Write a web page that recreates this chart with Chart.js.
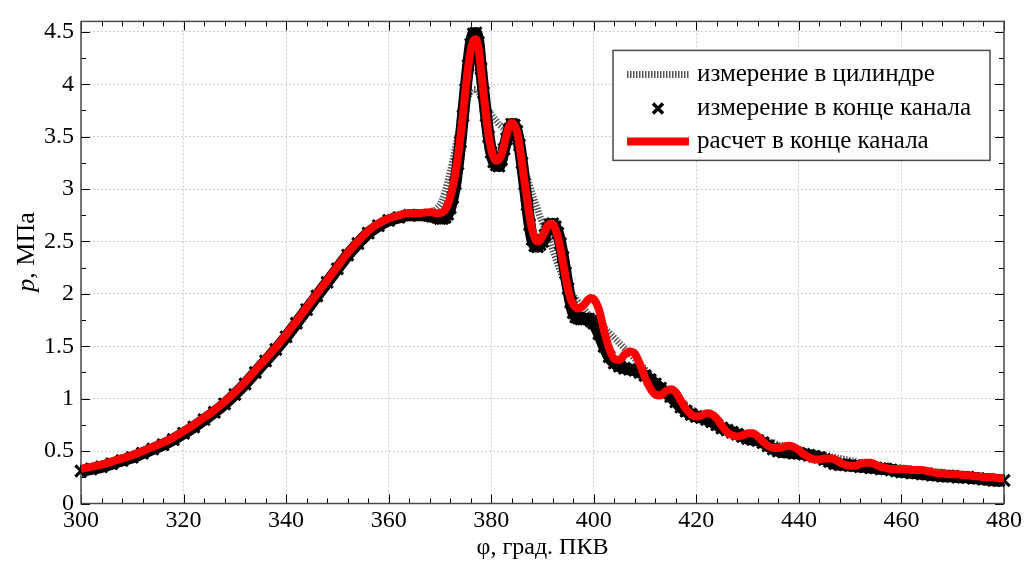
<!DOCTYPE html>
<html>
<head>
<meta charset="utf-8">
<title>Давление в цилиндре и в конце канала</title>
<script src="https://cdn.jsdelivr.net/npm/chart.js@4/dist/chart.umd.min.js"></script>
<style>
  html, body { margin: 0; padding: 0; background: #fff; }
  #wrap { width: 1026px; height: 561px; }
</style>
</head>
<body>
<div id="wrap"><canvas id="pressure" width="1026" height="561"></canvas></div>
<script>
// crank angle, deg (coarse on the compression stroke, fine around the peak)
const phi = [
  300, 302, 304, 306, 308, 310, 312, 314, 316, 318,
  320, 322, 324, 326, 328, 330, 332, 334, 336, 338,
  340, 342, 344, 346, 348, 350, 352, 354, 356, 358,
  360, 362, 364, 366, 368,
  368.5, 369, 369.5, 370, 370.5, 371, 371.5, 372,
  372.5, 373, 373.5, 374, 374.5, 375, 375.5, 376,
  376.5, 377, 377.5, 378, 378.5, 379, 379.5, 380,
  380.5, 381, 381.5, 382, 382.5, 383, 383.5, 384,
  384.5, 385, 385.5, 386, 386.5, 387, 387.5, 388,
  388.5, 389, 389.5, 390, 390.5, 391, 391.5, 392,
  392.5, 393, 393.5, 394, 394.5, 395, 395.5, 396,
  396.5, 397, 397.5, 398, 398.5, 399, 399.5, 400,
  401, 402, 403, 404, 405, 406, 407, 408, 409, 410,
  411, 412, 413, 414, 415, 416, 417, 418, 419, 420,
  421, 422, 423, 424, 425, 426, 427, 428, 429, 430,
  431, 432, 433, 434, 435, 436, 437, 438, 439, 440,
  441, 442, 443, 444, 445, 446, 447, 448, 449, 450,
  451, 452, 453, 454, 455, 456, 457, 458, 459, 460,
  461, 462, 463, 464, 465, 466, 467, 468, 469, 470,
  471, 472, 473, 474, 475, 476, 477, 478, 479, 480
];

// pressure measured in the cylinder, MPa
const pCylinder = [
  0.31, 0.33, 0.35, 0.37, 0.40, 0.44, 0.47, 0.51, 0.55, 0.60,
  0.66, 0.72, 0.79, 0.86, 0.93, 1.02, 1.12, 1.22, 1.33, 1.44,
  1.55, 1.68, 1.81, 1.94, 2.07, 2.20, 2.33, 2.45, 2.56, 2.64,
  2.70, 2.73, 2.75, 2.76, 2.78,
  2.79, 2.80, 2.82, 2.85, 2.90, 2.97, 3.06, 3.16,
  3.27, 3.39, 3.51, 3.62, 3.72, 3.81, 3.88, 3.93,
  3.95, 3.95, 3.93, 3.89, 3.84, 3.79, 3.75, 3.71,
  3.68, 3.65, 3.62, 3.60, 3.58, 3.56, 3.54, 3.51,
  3.47, 3.41, 3.34, 3.27, 3.19, 3.11, 3.03, 2.95,
  2.88, 2.81, 2.74, 2.68, 2.62, 2.56, 2.49, 2.42,
  2.35, 2.28, 2.22, 2.16, 2.11, 2.06, 2.02, 1.98,
  1.95, 1.92, 1.89, 1.86, 1.83, 1.80, 1.78, 1.76,
  1.73, 1.68, 1.63, 1.58, 1.53, 1.48, 1.43, 1.38, 1.33, 1.28,
  1.23, 1.18, 1.13, 1.09, 1.05, 1.01, 0.97, 0.93, 0.90, 0.87,
  0.84, 0.82, 0.80, 0.77, 0.75, 0.73, 0.71, 0.69, 0.67, 0.66,
  0.64, 0.62, 0.61, 0.59, 0.58, 0.56, 0.55, 0.54, 0.53, 0.52,
  0.50, 0.49, 0.48, 0.47, 0.46, 0.45, 0.44, 0.43, 0.42, 0.41,
  0.40, 0.39, 0.39, 0.38, 0.37, 0.36, 0.36, 0.35, 0.34, 0.34,
  0.33, 0.33, 0.32, 0.32, 0.31, 0.31, 0.30, 0.30, 0.29, 0.29,
  0.28, 0.28, 0.27, 0.27, 0.26, 0.26, 0.25, 0.25, 0.24, 0.24
];

// pressure measured at the channel end, MPa
const pChannelEnd = [
  0.31, 0.33, 0.35, 0.38, 0.41, 0.44, 0.48, 0.52, 0.56, 0.61,
  0.67, 0.73, 0.80, 0.87, 0.95, 1.04, 1.14, 1.25, 1.36, 1.47,
  1.59, 1.72, 1.85, 1.98, 2.11, 2.24, 2.37, 2.48, 2.58, 2.65,
  2.70, 2.73, 2.75, 2.75, 2.75,
  2.74, 2.74, 2.73, 2.72, 2.72, 2.73, 2.76, 2.82,
  2.92, 3.05, 3.24, 3.45, 3.70, 3.95, 4.18, 4.38,
  4.48, 4.49, 4.40, 4.15, 3.92, 3.70, 3.50, 3.35,
  3.26, 3.23, 3.22, 3.28, 3.38, 3.48, 3.57, 3.62,
  3.61, 3.55, 3.42, 3.25, 3.05, 2.85, 2.66, 2.52,
  2.46, 2.45, 2.47, 2.50, 2.56, 2.62, 2.66, 2.67,
  2.64, 2.58, 2.48, 2.35, 2.20, 2.05, 1.92, 1.82,
  1.78, 1.77, 1.76, 1.76, 1.76, 1.76, 1.74, 1.72,
  1.62, 1.50, 1.40, 1.34, 1.31, 1.29, 1.28, 1.27, 1.25, 1.22,
  1.18, 1.14, 1.10, 1.06, 1.02, 0.97, 0.92, 0.88, 0.85, 0.83,
  0.82, 0.80, 0.78, 0.75, 0.72, 0.70, 0.68, 0.66, 0.64, 0.62,
  0.61, 0.60, 0.58, 0.55, 0.52, 0.50, 0.49, 0.49, 0.48, 0.48,
  0.47, 0.46, 0.45, 0.44, 0.42, 0.40, 0.38, 0.37, 0.37, 0.36,
  0.36, 0.35, 0.35, 0.34, 0.34, 0.33, 0.33, 0.32, 0.31, 0.30,
  0.30, 0.29, 0.29, 0.28, 0.28, 0.27, 0.27, 0.26, 0.26, 0.26,
  0.25, 0.25, 0.25, 0.24, 0.24, 0.23, 0.23, 0.22, 0.22, 0.22
];

// calculated pressure at the channel end, MPa
const pCalc = [
  0.33, 0.35, 0.37, 0.40, 0.43, 0.46, 0.50, 0.54, 0.58, 0.63,
  0.69, 0.75, 0.82, 0.89, 0.97, 1.06, 1.16, 1.27, 1.38, 1.49,
  1.61, 1.74, 1.87, 2.00, 2.13, 2.26, 2.39, 2.50, 2.60, 2.67,
  2.72, 2.75, 2.77, 2.77, 2.78,
  2.78, 2.77, 2.77, 2.77, 2.78, 2.80, 2.85, 2.92,
  3.02, 3.15, 3.31, 3.50, 3.72, 3.95, 4.16, 4.32,
  4.41, 4.43, 4.35, 4.14, 3.92, 3.70, 3.51, 3.38,
  3.30, 3.27, 3.28, 3.33, 3.42, 3.52, 3.60, 3.63,
  3.61, 3.55, 3.42, 3.25, 3.07, 2.90, 2.74, 2.61,
  2.53, 2.50, 2.51, 2.55, 2.60, 2.65, 2.67, 2.67,
  2.62, 2.54, 2.43, 2.30, 2.16, 2.04, 1.95, 1.90,
  1.87, 1.86, 1.87, 1.89, 1.92, 1.95, 1.96, 1.95,
  1.85, 1.65, 1.48, 1.38, 1.37, 1.42, 1.45, 1.43, 1.33, 1.20,
  1.10, 1.04, 1.03, 1.07, 1.09, 1.06, 0.98, 0.90, 0.85, 0.83,
  0.84, 0.86, 0.85, 0.81, 0.74, 0.68, 0.65, 0.64, 0.65, 0.67,
  0.67, 0.64, 0.59, 0.55, 0.53, 0.53, 0.54, 0.55, 0.54, 0.51,
  0.47, 0.44, 0.42, 0.42, 0.43, 0.43, 0.42, 0.39, 0.37, 0.36,
  0.36, 0.38, 0.39, 0.39, 0.37, 0.35, 0.34, 0.33, 0.33, 0.33,
  0.33, 0.32, 0.32, 0.32, 0.31, 0.30, 0.29, 0.29, 0.28, 0.28,
  0.28, 0.27, 0.27, 0.26, 0.26, 0.25, 0.25, 0.25, 0.24, 0.24
];

const phiTicks = [300, 320, 340, 360, 380, 400, 420, 440, 460, 480];
const pTicks = [0, 0.5, 1, 1.5, 2, 2.5, 3, 3.5, 4, 4.5];

const seriesNames = [
  "измерение в цилиндре",
  "измерение в конце канала",
  "расчет в конце канала"
];

const FONT = '"Liberation Serif", "Times New Roman", serif';

function points(values) {
  return phi.map((x, i) => ({ x: x, y: values[i] }));
}

// frame, inward ticks, axis titles and the boxed legend
const decor = {
  id: "decor",
  beforeDatasetsDraw(chart) {
    const { ctx, chartArea: a, scales: { x, y } } = chart;
    ctx.save();
    ctx.strokeStyle = "#000";
    ctx.lineWidth = 1;
    ctx.beginPath();
    for (let i = 0; i <= 45; i++) {
      const v = 300 + i * 4;
      const px = Math.round(x.getPixelForValue(v)) + 0.5;
      const len = i % 5 === 0 ? 9 : 5;
      ctx.moveTo(px, a.bottom); ctx.lineTo(px, a.bottom - len);
      ctx.moveTo(px, a.top); ctx.lineTo(px, a.top + len);
    }
    for (let i = 0; i <= 18; i++) {
      const py = Math.round(y.getPixelForValue(i * 0.25)) + 0.5;
      const len = i % 2 === 0 ? 9 : 5;
      ctx.moveTo(a.left, py); ctx.lineTo(a.left + len, py);
      ctx.moveTo(a.right, py); ctx.lineTo(a.right - len, py);
    }
    ctx.stroke();
    ctx.strokeStyle = "#4a4a4a";
    ctx.lineWidth = 1.5;
    ctx.strokeRect(a.left, a.top, a.right - a.left, a.bottom - a.top);
    ctx.restore();
  },
  afterDraw(chart) {
    const { ctx, chartArea: a } = chart;
    ctx.save();
    ctx.fillStyle = "#000";
    ctx.textBaseline = "middle";

    // x title
    ctx.font = "24px " + FONT;
    ctx.textAlign = "center";
    ctx.fillText("φ, град. ПКВ", (a.left + a.right) / 2, 548);

    // y title, italic variable + upright unit
    ctx.translate(27, 252);
    ctx.rotate(-Math.PI / 2);
    ctx.textAlign = "left";
    ctx.font = "italic 26px " + FONT;
    const wVar = ctx.measureText("p").width;
    ctx.font = "26px " + FONT;
    const wUnit = ctx.measureText(", МПа").width;
    const x0 = -(wVar + wUnit) / 2;
    ctx.font = "italic 26px " + FONT;
    ctx.fillText("p", x0, 0);
    ctx.font = "26px " + FONT;
    ctx.fillText(", МПа", x0 + wVar, 0);
    ctx.restore();

    // legend box
    const left = a.right - 391, top = a.top + 29, w = 377, h = 110;
    ctx.save();
    ctx.fillStyle = "#fff";
    ctx.fillRect(left, top, w, h);
    ctx.strokeStyle = "#4a4a4a";
    ctx.lineWidth = 1.5;
    ctx.strokeRect(left, top, w, h);

    const rows = [top + 24, top + 58, top + 91];
    chart.data.datasets.forEach((ds, i) => {
      const yy = rows[i];
      if (ds.showMarks) {
        const cx = left + 45, r = 5;
        ctx.strokeStyle = ds.pointBorderColor;
        ctx.lineWidth = 3.5;
        ctx.setLineDash([]);
        ctx.beginPath();
        ctx.moveTo(cx - r, yy - r); ctx.lineTo(cx + r, yy + r);
        ctx.moveTo(cx - r, yy + r); ctx.lineTo(cx + r, yy - r);
        ctx.stroke();
      } else {
        ctx.strokeStyle = ds.borderColor;
        ctx.lineWidth = ds.borderWidth;
        ctx.setLineDash(ds.borderDash || []);
        ctx.beginPath();
        ctx.moveTo(left + 14, yy); ctx.lineTo(left + 76, yy);
        ctx.stroke();
      }
      ctx.setLineDash([]);
      ctx.fillStyle = "#000";
      ctx.font = "25px " + FONT;
      ctx.textAlign = "left";
      ctx.textBaseline = "middle";
      ctx.fillText(ds.label, left + 84, yy);
    });
    ctx.restore();
  }
};

new Chart(document.getElementById("pressure"), {
  type: "line",
  data: {
    datasets: [
      {
        label: seriesNames[0],
        data: points(pCylinder),
        borderColor: "#555555",
        borderWidth: 7,
        borderDash: [1.5, 1.5],
        pointRadius: 0,
        cubicInterpolationMode: "monotone",
        order: 3
      },
      {
        label: seriesNames[1],
        data: points(pChannelEnd),
        showMarks: true,
        borderColor: "#000",
        borderWidth: 12,
        pointStyle: "crossRot",
        pointRadius: 8,
        pointBorderWidth: 3,
        pointBorderColor: "#000",
        pointBackgroundColor: "#000",
        cubicInterpolationMode: "monotone",
        clip: false,
        order: 2
      },
      {
        label: seriesNames[2],
        data: points(pCalc),
        borderColor: "#ff0000",
        borderWidth: 8,
        pointRadius: 0,
        cubicInterpolationMode: "monotone",
        order: 1
      }
    ]
  },
  options: {
    responsive: false,
    animation: false,
    devicePixelRatio: 1,
    events: [],
    layout: { padding: { top: 10, right: 22, left: 0, bottom: 0 } },
    font: { family: FONT, size: 24 },
    color: "#000",
    plugins: {
      legend: { display: false },
      tooltip: { enabled: false }
    },
    scales: {
      x: {
        type: "linear",
        min: 300,
        max: 480,
        afterBuildTicks: s => { s.ticks = phiTicks.map(v => ({ value: v })); },
        afterFit: s => { s.height = 57.5; },
        ticks: {
          color: "#000",
          font: { family: FONT, size: 24 },
          padding: 3,
          maxRotation: 0,
          callback: v => String(v)
        },
        grid: { color: "#cfcfcf", lineWidth: 1, drawTicks: false },
        border: { display: false, dash: [2, 2] }
      },
      y: {
        type: "linear",
        min: 0,
        max: 4.6,
        afterBuildTicks: s => { s.ticks = pTicks.map(v => ({ value: v })); },
        afterFit: s => { s.width = 81; },
        ticks: {
          color: "#000",
          font: { family: FONT, size: 24 },
          padding: 7,
          callback: v => String(v)
        },
        grid: { color: "#cfcfcf", lineWidth: 1, drawTicks: false },
        border: { display: false, dash: [2, 2] }
      }
    }
  },
  plugins: [decor]
});
</script>
</body>
</html>
